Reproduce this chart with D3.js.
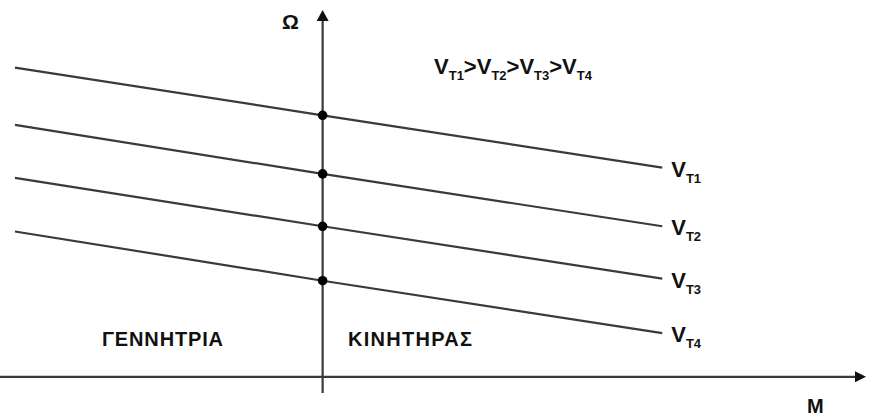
<!DOCTYPE html>
<html>
<head>
<meta charset="utf-8">
<script src="https://cdn.jsdelivr.net/npm/d3@7"></script>
<style>
  html, body { margin: 0; padding: 0; background: #fff; }
  svg { display: block; }
  text { font-family: "Liberation Sans", Arial, sans-serif; font-weight: bold; fill: #111; }
</style>
</head>
<body>
<div id="chart"></div>
<script>
// Speed–torque characteristics for four armature voltages
const torquePoints = [-0.906, 0, 1];
const seriesNames = ["T1", "T2", "T3", "T4"];
const omegaT1 = [11.87, 10.04, 8.03];
const omegaT2 = [9.67, 7.79, 5.78];
const omegaT3 = [7.64, 5.78, 3.77];
const omegaT4 = [5.58, 3.69, 1.68];
const regionLabels = ["ΓΕΝΝΗΤΡΙΑ", "ΚΙΝΗΤΗΡΑΣ"];
const axisLabels = { x: "M", y: "Ω" };

const series = seriesNames.map((name, i) => ({
  name,
  values: [omegaT1, omegaT2, omegaT3, omegaT4][i]
}));

const W = 870, H = 418;
const svg = d3.select("#chart").append("svg")
  .attr("width", W).attr("height", H);

const x = d3.scaleLinear().domain([-0.95, 1.6]).range([0, 866]);
const y = d3.scaleLinear().domain([-0.62, 14.12]).range([393, 9]);

const ink = "#3a3a3a";
const mainSize = 22, subSize = 13, subShift = 6;

// axes
const x0 = x(0), y0 = y(0);
svg.append("line")
  .attr("x1", x(-0.95)).attr("x2", x(1.6) - 8)
  .attr("y1", y0).attr("y2", y0)
  .attr("stroke", ink).attr("stroke-width", 2.2);
svg.append("path")
  .attr("d", `M${x(1.6)},${y0} L${x(1.6) - 11},${y0 - 5.5} L${x(1.6) - 11},${y0 + 5.5} Z`)
  .attr("fill", "#111");

svg.append("line")
  .attr("x1", x0).attr("x2", x0)
  .attr("y1", y(-0.62)).attr("y2", y(14.12) + 8)
  .attr("stroke", ink).attr("stroke-width", 2.2);
svg.append("path")
  .attr("d", `M${x0},${y(14.12) + 1} L${x0 - 6},${y(14.12) + 12} L${x0 + 6},${y(14.12) + 12} Z`)
  .attr("fill", "#111");

// characteristic lines
const line = d3.line()
  .x((d, i) => x(torquePoints[i]))
  .y(d => y(d));

svg.selectAll("path.curve").data(series).join("path")
  .attr("class", "curve")
  .attr("d", d => line(d.values))
  .attr("fill", "none")
  .attr("stroke", ink)
  .attr("stroke-width", 2.2);

// no-load points on the Ω axis
svg.selectAll("circle.pt").data(series).join("circle")
  .attr("class", "pt")
  .attr("cx", x(0))
  .attr("cy", d => y(d.values[torquePoints.indexOf(0)]))
  .attr("r", 4.8)
  .attr("fill", "#000");

// V with subscript
function vLabel(sel, sub, xPos, yBase) {
  const t = sel.append("text").attr("x", xPos).attr("y", yBase).style("font-size", mainSize + "px");
  t.append("tspan").text("V");
  t.append("tspan").attr("dy", subShift).style("font-size", subSize + "px").text(sub);
  return t;
}

series.forEach(s => {
  const last = s.values.length - 1;
  vLabel(svg, s.name, x(torquePoints[last]) + 9, y(s.values[last]) + 9);
});

// ordering statement
const title = svg.append("text").attr("x", 434).attr("y", 74).style("font-size", mainSize + "px");
seriesNames.forEach((n, i) => {
  title.append("tspan").attr("dy", i === 0 ? 0 : -subShift).text((i ? ">" : "") + "V");
  title.append("tspan").attr("dy", subShift).style("font-size", subSize + "px").text(n);
});

// axis names
svg.append("text").attr("x", 282).attr("y", 29).style("font-size", "21px").text(axisLabels.y);
svg.append("text").attr("x", 807).attr("y", 413).style("font-size", "20px").text(axisLabels.x);

// operating regions
svg.append("text").attr("x", 102).attr("y", 346).style("font-size", "20px")
  .attr("textLength", 121).attr("lengthAdjust", "spacing").text(regionLabels[0]);
svg.append("text").attr("x", 348).attr("y", 346).style("font-size", "20px")
  .attr("textLength", 124).attr("lengthAdjust", "spacing").text(regionLabels[1]);
</script>
</body>
</html>
